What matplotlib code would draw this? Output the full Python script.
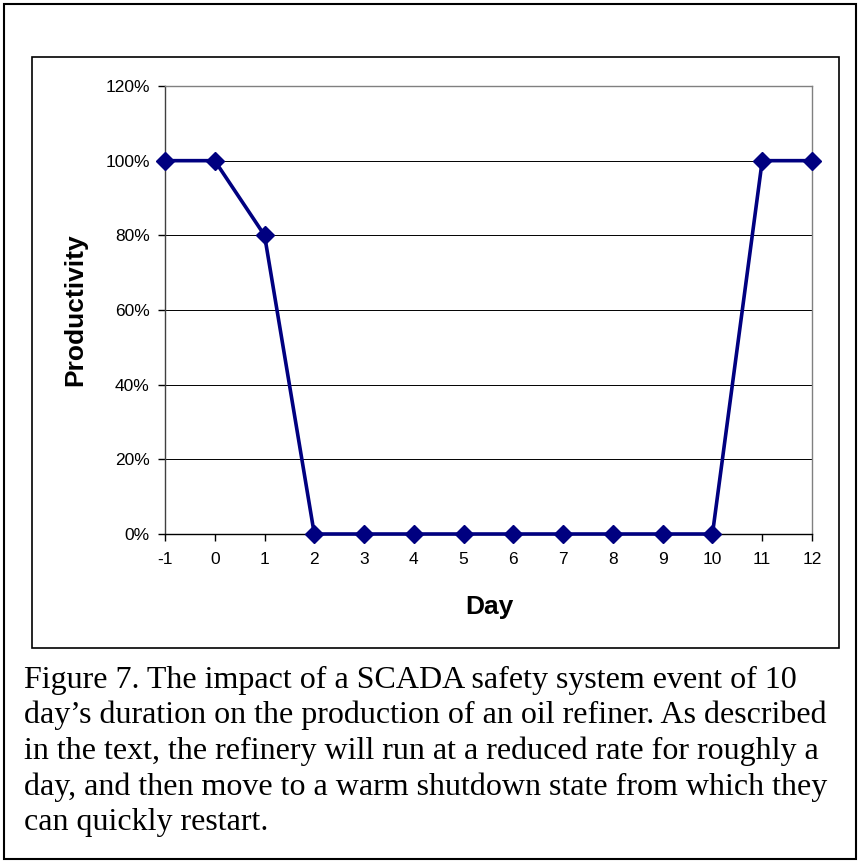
import matplotlib
matplotlib.use("Agg")
import matplotlib.pyplot as plt
from matplotlib.patches import Rectangle
from matplotlib.ticker import FuncFormatter

days = [-1, 0, 1, 2, 3, 4, 5, 6, 7, 8, 9, 10, 11, 12]
productivity = [100, 100, 80, 0, 0, 0, 0, 0, 0, 0, 0, 0, 100, 100]
yticks = [0, 20, 40, 60, 80, 100, 120]
caption_lines = [
    "Figure 7. The impact of a SCADA safety system event of 10",
    "day\u2019s duration on the production of an oil refiner. As described",
    "in the text, the refinery will run at a reduced rate for roughly a",
    "day, and then move to a warm shutdown state from which they",
    "can quickly restart.",
]

W, H = 858, 861
fig = plt.figure(figsize=(W / 100, H / 100), dpi=100)
fig.patch.set_facecolor("white")

def fx(x):
    return x / W

def fy(y):
    return 1 - y / H

# outer border
fig.add_artist(Rectangle((fx(4), fy(859)), fx(852), 855 / H, transform=fig.transFigure,
                         fill=False, edgecolor="black", linewidth=1.5))
# inner chart box
fig.add_artist(Rectangle((fx(32), fy(648)), fx(807), 591 / H, transform=fig.transFigure,
                         fill=False, edgecolor="black", linewidth=1.2))

ax = fig.add_axes([fx(165), fy(534), fx(647), 448 / H])
ax.plot(days, productivity, color="#000080", linewidth=2.6, marker="D",
        markersize=9.5, markerfacecolor="#000080", markeredgecolor="#000080",
        clip_on=False, zorder=5)

ax.set_xlim(-1, 12)
ax.set_ylim(0, 120)
ax.set_xticks(days)
ax.set_xticklabels([str(d) for d in days])
ax.set_yticks(yticks)
ax.yaxis.set_major_formatter(FuncFormatter(lambda v, p: f"{int(v)}%"))
ax.grid(axis="y", color="black", linewidth=0.7)
ax.set_axisbelow(True)

for s in ["top", "right"]:
    ax.spines[s].set_color("#808080")
    ax.spines[s].set_linewidth(1.0)
ax.spines["left"].set_color("#404040")
ax.spines["bottom"].set_color("black")
for s in ["left", "bottom"]:
    ax.spines[s].set_linewidth(1.0)

ax.tick_params(axis="both", direction="out", length=5, width=1.0, color="black",
               labelsize=12.5, labelcolor="black")
ax.tick_params(axis="x", pad=8)
ax.tick_params(axis="y", pad=6)
for lab in ax.get_xticklabels() + ax.get_yticklabels():
    lab.set_fontfamily("Liberation Sans")

fig.text(fx(489), fy(607), "Day", ha="center", va="center",
         fontsize=19, fontweight="bold", family="Liberation Sans")
fig.text(fx(75), fy(310), "Productivity", ha="center", va="center", rotation=90,
         fontsize=19, fontweight="bold", family="Liberation Sans")

base = 688
for i, line in enumerate(caption_lines):
    fig.text(fx(24), fy(base + 35.5 * i), line, ha="left", va="baseline",
             fontsize=23, family="Liberation Serif", color="black")

fig.savefig("out.png", dpi=100, facecolor="white")
